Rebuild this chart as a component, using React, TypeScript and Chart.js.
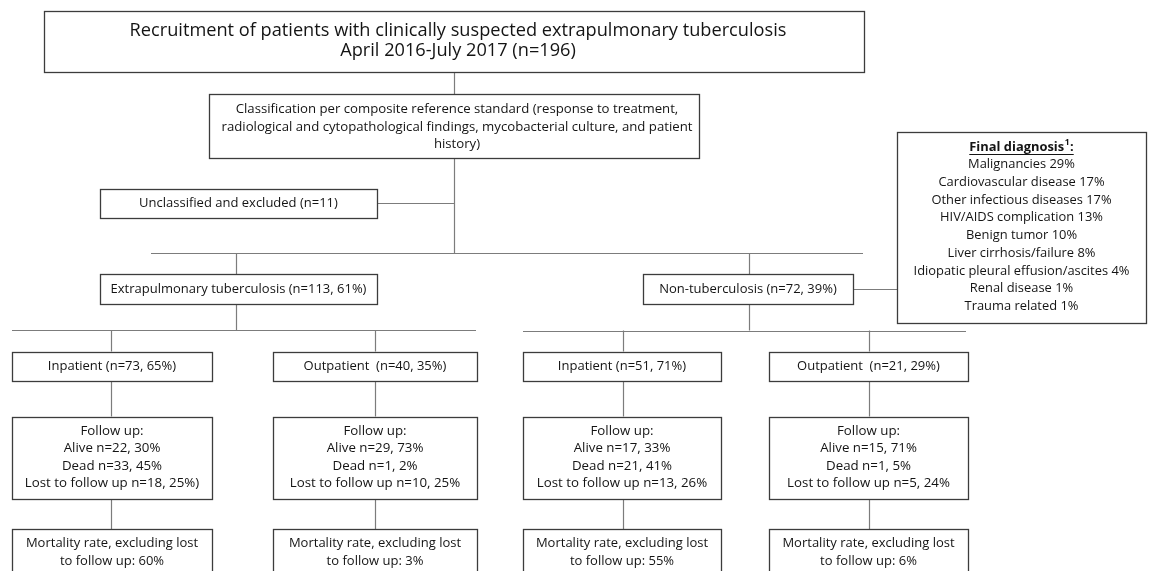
import React, { useEffect, useRef } from "react";
import { Chart, registerables } from "chart.js";

Chart.register(...registerables);

const W = 1149;
const H = 571;

// ---------------- content (data) ----------------
const titleLines = [
  "Recruitment of patients with clinically suspected extrapulmonary tuberculosis",
  "April 2016-July 2017 (n=196)",
];
const classificationLines = [
  "Classification per composite reference standard (response to treatment,",
  "radiological and cytopathological findings, mycobacterial culture, and patient",
  "history)",
];
const excludedLabel = "Unclassified and excluded (n=11)";
const groupLabels = ["Extrapulmonary tuberculosis (n=113, 61%)", "Non-tuberculosis (n=72, 39%)"];
const settingLabels = [
  "Inpatient (n=73, 65%)",
  "Outpatient  (n=40, 35%)",
  "Inpatient (n=51, 71%)",
  "Outpatient  (n=21, 29%)",
];
const aliveN = [22, 29, 17, 15];
const alivePct = [30, 73, 33, 71];
const deadN = [33, 1, 21, 1];
const deadPct = [45, 2, 41, 5];
const lostN = [18, 10, 13, 5];
const lostPct = [25, 25, 26, 24];
const lostSuffix = [")", "", "", ""];
const mortalityPct = [60, 3, 55, 6];
const diagnosisTitle = "Final diagnosis";
const diagnosisCategories = [
  "Malignancies",
  "Cardiovascular disease",
  "Other infectious diseases",
  "HIV/AIDS complication",
  "Benign tumor",
  "Liver cirrhosis/failure",
  "Idiopatic pleural effusion/ascites",
  "Renal disease",
  "Trauma related",
];
const diagnosisPct = [29, 17, 17, 13, 10, 8, 4, 1, 1];

// ---------------- layout (style / geometry, not data) ----------------
const FONT = '"Open Sans", "Noto Sans", sans-serif';
const SX = 1.0; // horizontal condense
const leafX: [number, number][] = [
  [12, 212],
  [273, 477],
  [523, 721],
  [769, 968],
];
const leafBranchX = [111, 375, 623, 869];

type Box = {
  x0: number;
  x1: number;
  y0: number;
  y1: number;
  lines: string[];
  top: number;
  gap: number;
  size: number;
  dx?: number;
};

function buildBoxes(): Box[] {
  const boxes: Box[] = [];
  boxes.push({ x0: 44, x1: 864, y0: 11, y1: 72, lines: titleLines, top: 30.5, gap: 20, size: 18.2, dx: 4 });
  boxes.push({ x0: 209, x1: 699, y0: 94, y1: 158, lines: classificationLines, top: 109.5, gap: 17.3, size: 13.2, dx: 3 });
  boxes.push({ x0: 100, x1: 377, y0: 189, y1: 217.5, lines: [excludedLabel], top: 203, gap: 0, size: 13 });
  boxes.push({ x0: 100, x1: 377, y0: 274, y1: 303.5, lines: [groupLabels[0]], top: 289, gap: 0, size: 13 });
  boxes.push({ x0: 643, x1: 853, y0: 274, y1: 303.5, lines: [groupLabels[1]], top: 289, gap: 0, size: 13 });
  boxes.push({
    x0: 897,
    x1: 1146,
    y0: 132,
    y1: 322.5,
    lines: ["", ...diagnosisCategories.map((c, i) => `${c} ${diagnosisPct[i]}%`)],
    top: 147,
    gap: 17.7,
    size: 12.9,
  });
  for (let i = 0; i < 4; i++) {
    const [a, b] = leafX[i];
    boxes.push({ x0: a, x1: b, y0: 351.5, y1: 381, lines: [settingLabels[i]], top: 366, gap: 0, size: 13 });
    boxes.push({
      x0: a,
      x1: b,
      y0: 416.5,
      y1: 499,
      lines: [
        "Follow up:",
        `Alive n=${aliveN[i]}, ${alivePct[i]}%`,
        `Dead n=${deadN[i]}, ${deadPct[i]}%`,
        `Lost to follow up n=${lostN[i]}, ${lostPct[i]}%${lostSuffix[i]}`,
      ],
      top: 431,
      gap: 17.5,
      size: 13.3,
    });
    boxes.push({
      x0: a,
      x1: b,
      y0: 529,
      y1: 620,
      lines: ["Mortality rate, excluding lost", `to follow up: ${mortalityPct[i]}%`],
      top: 543.5,
      gap: 18,
      size: 13,
    });
  }
  return boxes;
}

function buildConnectors(): [number, number, number, number][] {
  const c: [number, number, number, number][] = [];
  c.push([454, 72, 454, 94]);
  c.push([454, 158, 454, 253]);
  c.push([377, 203, 454, 203]);
  c.push([151, 253, 863, 253]);
  c.push([236, 253, 236, 274]);
  c.push([749, 253, 749, 274]);
  c.push([236, 303.5, 236, 330]);
  c.push([749, 303.5, 749, 330.5]);
  c.push([12, 330, 476, 330]);
  c.push([523, 330.5, 966, 330.5]);
  c.push([853, 289, 897, 289]);
  for (let i = 0; i < 4; i++) {
    const bx = leafBranchX[i];
    c.push([bx, i < 2 ? 330 : 330.5, bx, 351.5]);
    c.push([bx, 381, bx, 416.5]);
    c.push([bx, 499, bx, 529]);
  }
  return c;
}

const boxes = buildBoxes();
const connectors = buildConnectors();

const flowPlugin = {
  id: "flow",
  afterDraw(chart: any) {
    const ctx: CanvasRenderingContext2D = chart.ctx;
    const xs = chart.scales.x;
    const ys = chart.scales.y;
    const px = (v: number) => xs.getPixelForValue(v);
    const py = (v: number) => ys.getPixelForValue(v);
    const snap = (v: number) => Math.round(v) + 0.5;

    ctx.save();
    // connectors
    ctx.strokeStyle = "#7c7c7c";
    ctx.lineWidth = 1.2;
    for (const [a, b, c2, d] of connectors) {
      ctx.beginPath();
      const x1 = a === c2 ? snap(px(a)) : px(a);
      const x2 = a === c2 ? snap(px(c2)) : px(c2);
      const y1 = b === d ? snap(py(b)) : py(b);
      const y2 = b === d ? snap(py(d)) : py(d);
      ctx.moveTo(x1, y1);
      ctx.lineTo(x2, y2);
      ctx.stroke();
    }
    // boxes
    for (const bx of boxes) {
      const x0 = snap(px(bx.x0));
      const x1 = snap(px(bx.x1));
      const y0 = snap(py(bx.y0));
      const y1 = snap(py(bx.y1));
      ctx.fillStyle = "#ffffff";
      ctx.fillRect(x0, y0, x1 - x0, y1 - y0);
      ctx.strokeStyle = "#3c3c3c";
      ctx.lineWidth = 1.3;
      ctx.strokeRect(x0, y0, x1 - x0, y1 - y0);
      const cx = (px(bx.x0) + px(bx.x1)) / 2 + (bx.dx || 0);
      ctx.fillStyle = "#141414";
      ctx.textAlign = "center";
      ctx.textBaseline = "middle";
      bx.lines.forEach((line, i) => {
        if (!line) return;
        ctx.save();
        ctx.font = `${bx.size}px ${FONT}`;
        ctx.translate(cx, py(bx.top + i * bx.gap));
        ctx.scale(SX, 1);
        ctx.fillText(line, 0, 0);
        ctx.restore();
      });
    }
    // Final diagnosis header (bold, underlined, superscript)
    const fb = boxes[5];
    const cx = (px(fb.x0) + px(fb.x1)) / 2;
    const cy = py(fb.top);
    const fBold = `bold 12.9px ${FONT}`;
    const fSup = `bold 8.5px ${FONT}`;
    ctx.font = fBold;
    const w1 = ctx.measureText(diagnosisTitle).width;
    const w3 = ctx.measureText(":").width;
    ctx.font = fSup;
    const w2 = ctx.measureText("1").width + 1;
    const total = (w1 + w2 + w3) * SX;
    let sx0 = cx - total / 2;
    ctx.textAlign = "left";
    ctx.textBaseline = "middle";
    ctx.fillStyle = "#141414";
    ctx.save();
    ctx.translate(sx0, cy);
    ctx.scale(SX, 1);
    ctx.font = fBold;
    ctx.fillText(diagnosisTitle, 0, 0);
    ctx.font = fSup;
    ctx.fillText("1", w1 + 0.5, -4);
    ctx.font = fBold;
    ctx.fillText(":", w1 + w2, 0);
    ctx.restore();
    ctx.strokeStyle = "#141414";
    ctx.lineWidth = 1;
    ctx.beginPath();
    ctx.moveTo(sx0, Math.round(cy + 7) + 0.5);
    ctx.lineTo(sx0 + total, Math.round(cy + 7) + 0.5);
    ctx.stroke();
    ctx.restore();
  },
};

export default function App() {
  const ref = useRef<HTMLCanvasElement | null>(null);
  useEffect(() => {
    document.body.style.margin = "0";
    if (!ref.current) return;
    const chart = new Chart(ref.current, {
      type: "scatter",
      data: {
        datasets: [
          {
            data: boxes.map((b) => ({ x: (b.x0 + b.x1) / 2, y: (b.y0 + b.y1) / 2 })),
            pointRadius: 0,
            showLine: false,
          },
        ],
      },
      options: {
        responsive: false,
        animation: false,
        events: [],
        layout: { padding: 0 },
        plugins: { legend: { display: false }, tooltip: { enabled: false } },
        scales: {
          x: { type: "linear", min: 0, max: W, display: false },
          y: { type: "linear", min: 0, max: H, reverse: true, display: false },
        },
      },
      plugins: [flowPlugin],
    });
    return () => chart.destroy();
  }, []);
  return (
    <div style={{ width: W, height: H, background: "#fff" }}>
      <canvas ref={ref} width={W} height={H} style={{ display: "block" }} />
    </div>
  );
}
